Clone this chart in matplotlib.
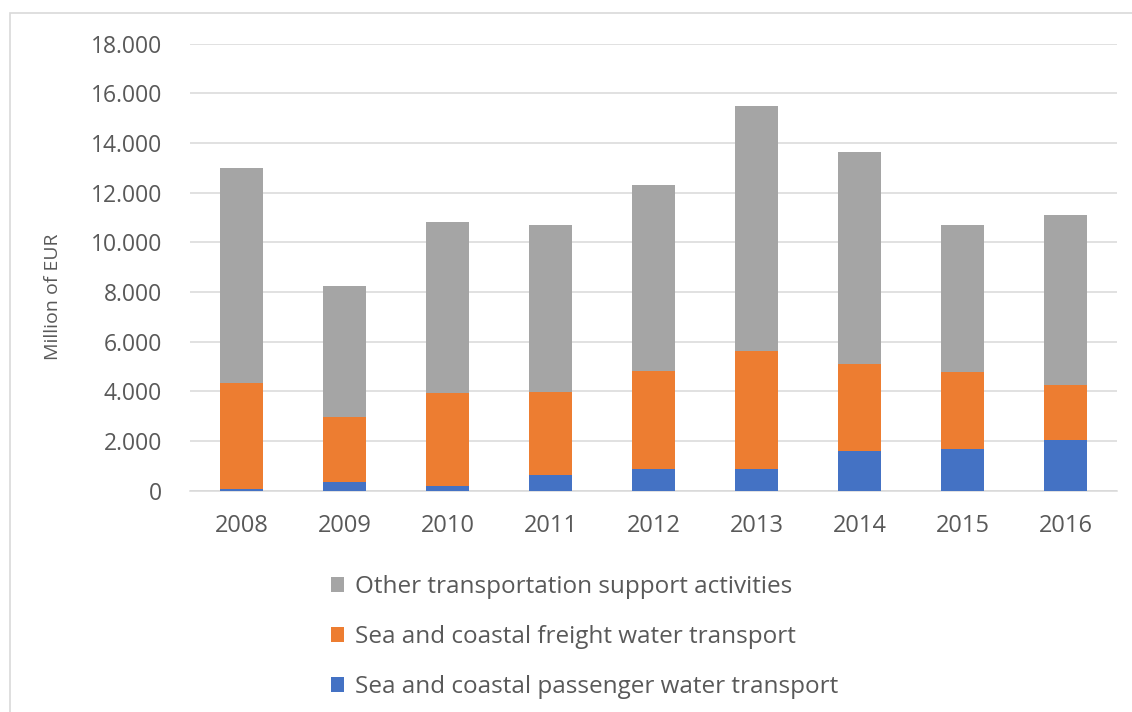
import matplotlib.pyplot as plt
from matplotlib.patches import Rectangle
from matplotlib.ticker import FuncFormatter, MultipleLocator

years = ['2008', '2009', '2010', '2011', '2012', '2013', '2014', '2015', '2016']
passenger = [60, 340, 180, 640, 860, 860, 1590, 1670, 2040]
freight = [4270, 2620, 3770, 3350, 3950, 4780, 3500, 3100, 2220]
other = [8670, 5290, 6870, 6710, 7500, 9850, 8550, 5930, 6840]

labels = ['Sea and coastal passenger water transport',
          'Sea and coastal freight water transport',
          'Other transportation support activities']
colors = ['#4472C4', '#ED7D31', '#A5A5A5']
text_color = '#595959'

plt.rcParams['font.family'] = ['Open Sans', 'DejaVu Sans']

W, H = 1132, 712
fig = plt.figure(figsize=(W / 100, H / 100), dpi=100)
ax = fig.add_axes([190 / W, 1 - 490.7 / H, 927 / W, 447 / H])

# light frame around the chart area
fig.patches.append(Rectangle((10 / W, -0.1), 1.2, 1 - 13 / H + 0.1,
                             transform=fig.transFigure, fill=False,
                             edgecolor='#d9d9d9', linewidth=1.2))

x = range(len(years))
w = 0.41
b1 = ax.bar(x, passenger, w, color=colors[0], label=labels[0], zorder=3)
b2 = ax.bar(x, freight, w, bottom=passenger, color=colors[1], label=labels[1], zorder=3)
bottom3 = [p + f for p, f in zip(passenger, freight)]
b3 = ax.bar(x, other, w, bottom=bottom3, color=colors[2], label=labels[2], zorder=3)

ax.set_xlim(-0.5, len(years) - 0.5)
ax.set_ylim(0, 18000)
ax.yaxis.set_major_locator(MultipleLocator(2000))
ax.yaxis.set_major_formatter(FuncFormatter(lambda v, p: f'{int(v):,}'.replace(',', '.')))
ax.set_xticks(list(x))
ax.set_xticklabels(years)

ax.grid(axis='y', color='#d9d9d9', linewidth=1.1, zorder=0)
for s in ['top', 'right', 'left']:
    ax.spines[s].set_visible(False)
ax.spines['bottom'].set_color('#d9d9d9')
ax.spines['bottom'].set_linewidth(1.1)
ax.tick_params(axis='both', length=0, colors=text_color)
ax.tick_params(axis='y', pad=20, labelsize=16.5)
ax.tick_params(axis='x', pad=17, labelsize=17)

ax.set_ylabel('Million of EUR', color=text_color, fontsize=14)
ax.yaxis.set_label_coords(-0.138, 0.433)

fig.legend([b3, b2, b1], [labels[2], labels[1], labels[0]],
           loc='upper left', bbox_to_anchor=(331 / W, 1 - 575 / H),
           frameon=False, fontsize=17.5, labelcolor=text_color,
           handlelength=0.55, handleheight=0.55, handletextpad=0.42,
           labelspacing=1.07, borderpad=0, borderaxespad=0)

fig.savefig('out.png', dpi=100)
